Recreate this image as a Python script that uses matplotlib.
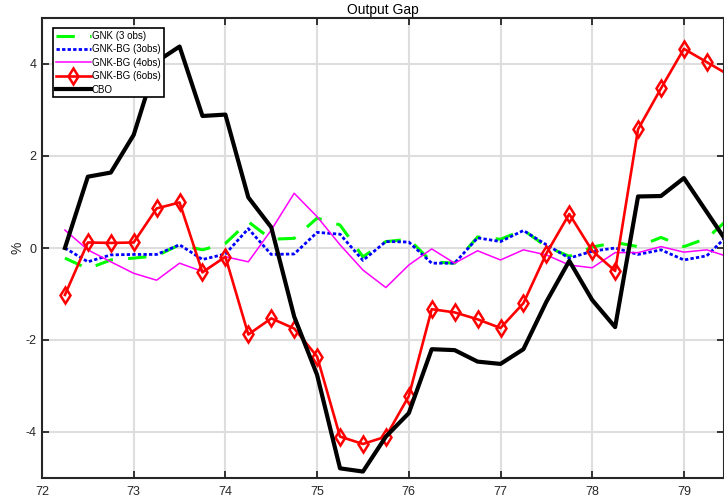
import numpy as np
import matplotlib
matplotlib.use("Agg")
import matplotlib.pyplot as plt

plt.rcParams['font.family'] = ['Liberation Sans', 'DejaVu Sans']

# quarterly dates (year + fraction)
dates = [72.25, 72.5, 72.75, 73.0, 73.25, 73.5, 73.75, 74.0, 74.25, 74.5,
         74.75, 75.0, 75.25, 75.5, 75.75, 76.0, 76.25, 76.5, 76.75, 77.0,
         77.25, 77.5, 77.75, 78.0, 78.25, 78.5, 78.75, 79.0, 79.25, 79.5]

gnk_3obs = [-0.22, -0.45, -0.26, -0.22, -0.17, 0.07, -0.04, 0.10, 0.57, 0.19,
            0.21, 0.65, 0.50, -0.19, 0.14, 0.19, -0.30, -0.33, 0.24, 0.19,
            0.39, 0.03, -0.18, 0.02, 0.12, 0.03, 0.23, 0.03, 0.21, 0.66]

gnkbg_3obs = [0.0, -0.30, -0.15, -0.14, -0.14, 0.07, -0.25, -0.13, 0.42, -0.14,
              -0.13, 0.34, 0.30, -0.27, 0.14, 0.13, -0.33, -0.33, 0.22, 0.14,
              0.38, 0.07, -0.22, -0.07, 0.0, -0.14, -0.04, -0.26, -0.17, 0.32]

gnkbg_4obs = [0.39, -0.04, -0.30, -0.55, -0.70, -0.33, -0.51, -0.19, -0.30, 0.39,
              1.19, 0.68, 0.07, -0.48, -0.86, -0.37, -0.02, -0.33, -0.06, -0.26,
              -0.04, -0.15, -0.37, -0.43, -0.10, -0.10, 0.03, -0.09, -0.04, -0.20]

gnkbg_6obs = [-1.02, 0.12, 0.11, 0.12, 0.86, 0.99, -0.53, -0.19, -1.88, -1.53,
              -1.75, -2.36, -4.10, -4.26, -4.10, -3.22, -1.33, -1.40, -1.55, -1.74,
              -1.20, -0.12, 0.74, -0.06, -0.50, 2.58, 3.47, 4.33, 4.04, 3.75]

cbo = [0.0, 1.55, 1.64, 2.46, 4.05, 4.38, 2.87, 2.90, 1.10, 0.45,
       -1.49, -2.76, -4.79, -4.86, -4.10, -3.59, -2.20, -2.22, -2.47, -2.52,
       -2.20, -1.17, -0.28, -1.13, -1.72, 1.12, 1.13, 1.52, 0.78, 0.04]

fig = plt.figure(figsize=(7.24, 5.01), dpi=100)
ax = fig.add_axes([42 / 724, 1 - 478 / 501, 682 / 724, 460 / 501])

ax.plot(dates, gnk_3obs, color='#00ff00', linewidth=2.2, dashes=(6, 5),
        label='GNK (3 obs)')
ax.plot(dates, gnkbg_3obs, color='#0000ff', linewidth=2.0, dashes=(1.2, 0.8),
        label='GNK-BG (3obs)')
ax.plot(dates, gnkbg_4obs, color='#ff00ff', linewidth=1.1,
        label='GNK-BG (4obs)')
ax.plot(dates, gnkbg_6obs, color='#ff0000', linewidth=1.9, marker='d',
        markersize=8, markerfacecolor='none', markeredgewidth=1.8,
        label='GNK-BG (6obs)')
ax.plot(dates, cbo, color='black', linewidth=3.0, label='CBO')

ax.set_xlim(72, 72 + 682 / 91.7)
ax.set_ylim(-5, 5)
ax.set_xticks(np.arange(72, 80, 1))
ax.set_yticks([-4, -2, 0, 2, 4])
ax.set_xticklabels(['72', '73', '74', '75', '76', '77', '78', '79'])
ax.set_yticklabels(['-4', '-2', '0', '2', '4'])

ax.grid(True, color='#dedede', linewidth=1.5)
ax.set_axisbelow(True)
ax.tick_params(direction='in', length=5, width=1.3, top=True, right=True,
               labelsize=9, colors='#262626')
ax.tick_params(axis='x', pad=6)
ax.tick_params(axis='y', pad=4)
for s in ax.spines.values():
    s.set_color('#262626')
    s.set_linewidth(1.5)

ax.set_ylabel('%', fontsize=10, color='#262626', labelpad=1)
ax.set_title('Output Gap', fontsize=10, color='black', pad=3)

leg = ax.legend(loc='upper left', bbox_to_anchor=(11 / 682, 1 - 10 / 460),
                fontsize=7, frameon=True, fancybox=False, framealpha=1,
                edgecolor='black', handlelength=3.6, handletextpad=0.1,
                labelspacing=0.35, borderpad=0.3, borderaxespad=0.0)
leg.get_frame().set_linewidth(1.2)

fig.savefig('out.png', dpi=100)
